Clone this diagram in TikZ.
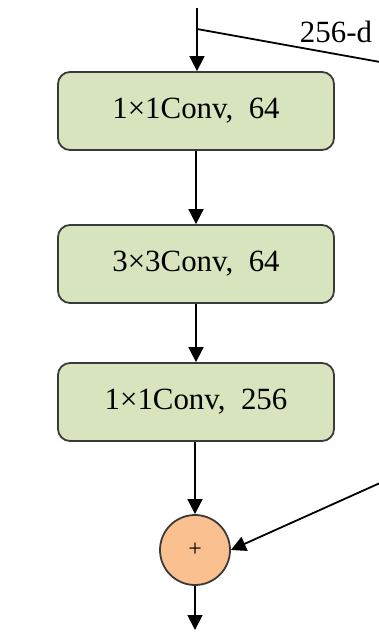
\documentclass[tikz,border=0pt]{standalone}
\usepackage{fontspec}
\setmainfont{Liberation Serif}
\usetikzlibrary{arrows.meta}
\definecolor{boxgreen}{HTML}{D7E4BD}
\definecolor{sumorange}{HTML}{FAC090}
\definecolor{edge}{HTML}{3A3A3A}
\begin{document}
\begin{tikzpicture}[x=1bp,y=-1bp,
  convbox/.style={draw=edge, line width=1.8bp, fill=boxgreen, rounded corners=12bp,
    minimum width=276bp, minimum height=78bp, inner sep=0pt,
    font=\fontsize{31}{35}\selectfont},
  sumnode/.style={circle, draw=edge, line width=1.8bp, fill=sumorange,
    minimum size=70bp, inner sep=0pt, font=\fontsize{24}{28}\selectfont},
  flow/.style={line width=1.8bp, draw=black, -{Triangle[length=15bp,width=15bp]}},
  plain/.style={line width=1.8bp, draw=black}]
\useasboundingbox (0,0) rectangle (378,634);
\node[convbox] (c1) at (196,111) {1×1Conv,\ \ 64};
\node[convbox] (c2) at (196,264) {3×3Conv,\ \ 64};
\node[convbox] (c3) at (196,402) {1×1Conv,\ \ 256};
\node[sumnode] (sum) at (195,550) {+};
\coordinate (in) at (197,8);
\coordinate (split) at (197,29);
\coordinate (skipout) at (380,62);
\coordinate (skipin) at (380,483);
\coordinate (out) at (195,630);
\node[font=\fontsize{31}{35}\selectfont, anchor=base] (lbl) at (336,43) {256-d};
\draw[flow] (in) -- (c1.north -| in);
\draw[plain] (split) -- (skipout);
\draw[flow] (c1) -- (c2);
\draw[flow] (c2) -- (c3);
\draw[flow] (c3.south -| sum) -- (sum);
\draw[flow] (skipin) -- (sum.east);
\draw[flow] (sum) -- (out);
\end{tikzpicture}
\end{document}
